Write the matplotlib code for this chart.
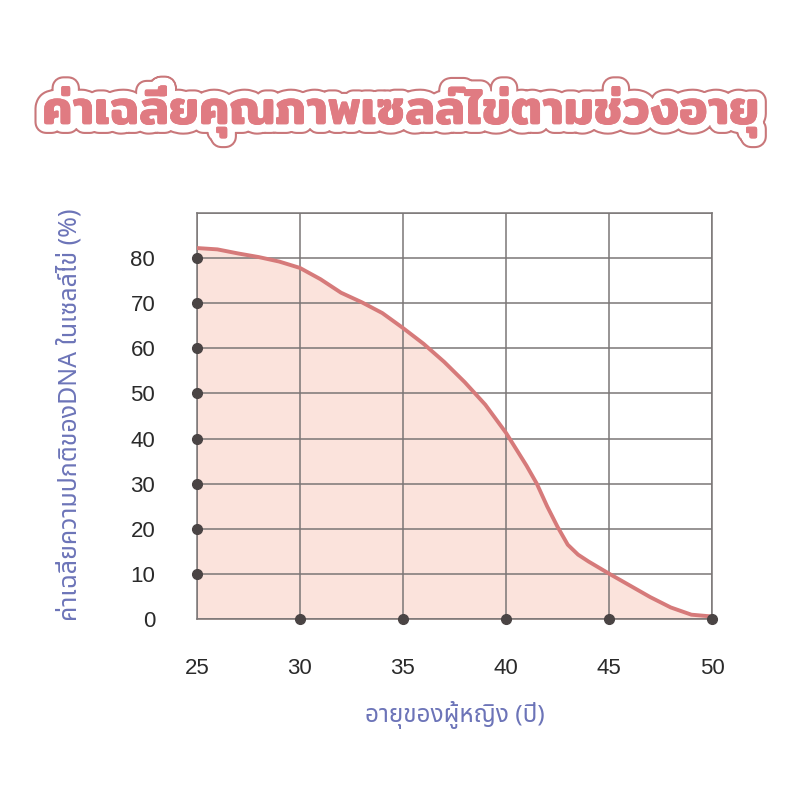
import matplotlib
matplotlib.use("Agg")
import matplotlib.pyplot as plt
import matplotlib.patheffects as pe

# ข้อมูลอ่านจากกราฟ
ages = [25, 26, 27, 28, 29, 30, 31, 32, 33, 34, 35, 36, 37, 38, 39, 40,
        41, 41.5, 42, 42.5, 43, 43.5, 44, 45, 46, 47, 48, 49, 50]
quality = [82.2, 81.9, 81.0, 80.2, 79.2, 77.8, 75.3, 72.3, 70.2, 67.8, 64.5,
           61.0, 57.0, 52.5, 47.5, 41.3, 34.0, 30.0, 25.0, 20.5, 16.5, 14.3,
           12.8, 10.1, 7.5, 4.9, 2.6, 1.0, 0.6]
x_ticks = [25, 30, 35, 40, 45, 50]
y_ticks = [0, 10, 20, 30, 40, 50, 60, 70, 80]

title = "ค่าเฉลี่ยคุณภาพเซลล์ไข่ตามช่วงอายุ"
xlabel = "อายุของผู้หญิง (ปี)"
ylabel = "ค่าเฉลี่ยความปกติของDNA ในเซลล์ไข่ (%)"

label_font = ["Noto Sans Thai", "DejaVu Sans"]
num_font = ["Liberation Sans", "DejaVu Sans"]
grid_c = "#7a7676"
dot_c = "#4a4444"
line_c = "#d67a7a"
fill_c = "#fbe3dc"
label_c = "#6c74b8"

fig = plt.figure(figsize=(8, 8), dpi=100)
ax = fig.add_axes([0.246, 0.226, 0.644, 0.508])

ax.fill_between(ages, quality, 0, color=fill_c, zorder=1)
ax.plot(ages, quality, color=line_c, lw=2.8, zorder=3,
        solid_capstyle="round", solid_joinstyle="round")

ax.set_xlim(25, 50)
ax.set_ylim(0, 90)
ax.set_xticks(x_ticks)
ax.set_yticks(list(range(0, 100, 10)))
ax.set_yticklabels([str(v) for v in y_ticks] + [""])
ax.grid(True, color=grid_c, lw=1.1, zorder=2)
ax.set_axisbelow(False)
for s in ax.spines.values():
    s.set_color(grid_c)
    s.set_linewidth(1.1)
ax.tick_params(length=0, labelsize=16, labelcolor="#2a2a2a")
ax.tick_params(axis="y", pad=30)
ax.tick_params(axis="x", pad=28)
for t in ax.get_xticklabels() + ax.get_yticklabels():
    t.set_family(num_font)

# จุดบนแกน
ax.plot([25] * 8, y_ticks[1:], "o", color=dot_c, ms=7, clip_on=False, zorder=5)
ax.plot(x_ticks[1:], [0] * 5, "o", color=dot_c, ms=7, clip_on=False, zorder=5)

ax.set_xlabel(xlabel, family=label_font, fontsize=17.5, color=label_c, labelpad=16)
ax.set_ylabel(ylabel, family=label_font, fontsize=18, color=label_c)
ax.yaxis.set_label_coords(-0.222, 0.502)

fig.text(0.5, 0.86, title, ha="center", va="center", fontsize=34.5,
         family=["Mitr", "DejaVu Sans"], weight="semibold", color="#e07b82",
         path_effects=[pe.withStroke(linewidth=14, foreground="#c9777a"),
                       pe.withStroke(linewidth=11, foreground="white"),
                       pe.Normal()])

fig.savefig("out.png")
